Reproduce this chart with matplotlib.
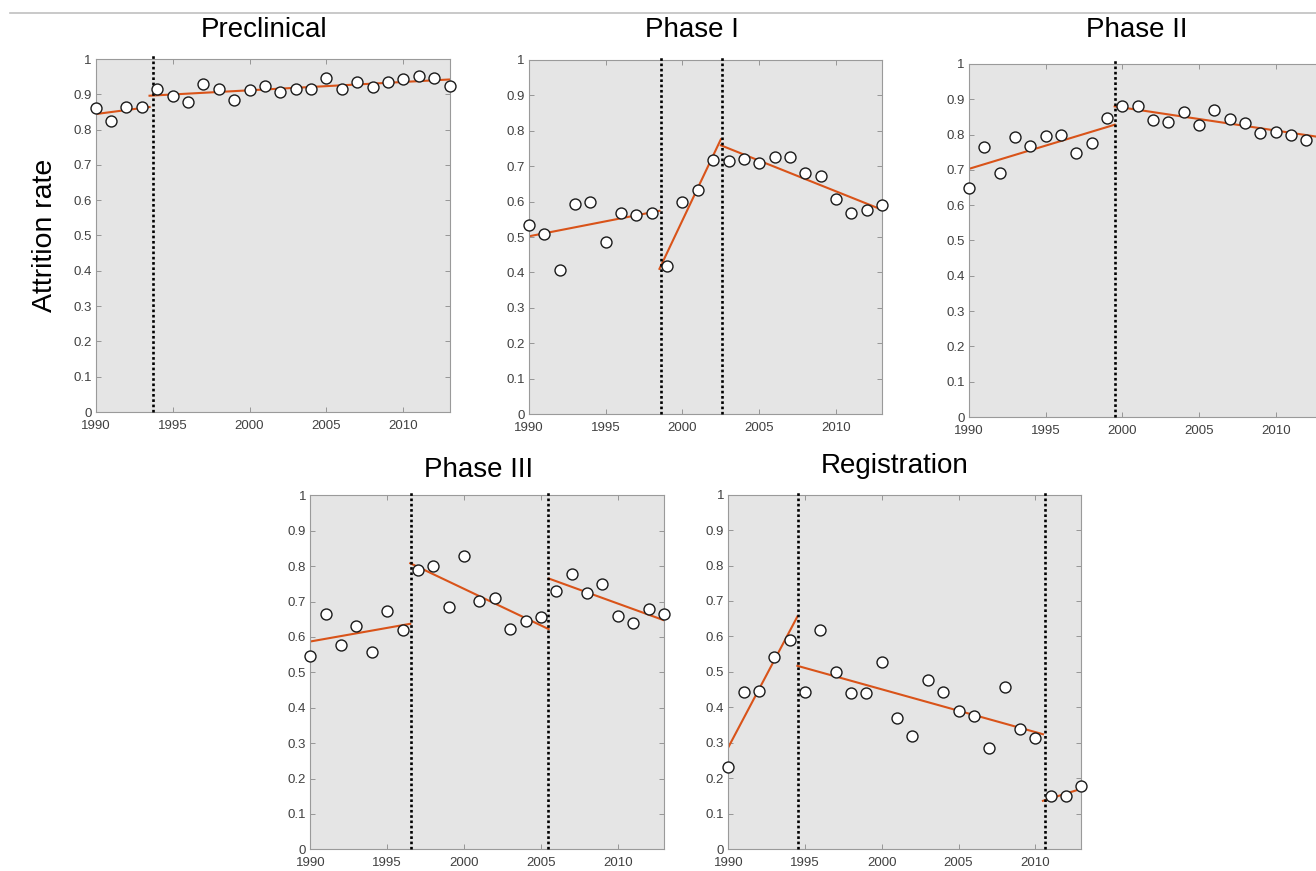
import matplotlib
matplotlib.use("Agg")
import matplotlib.pyplot as plt
from matplotlib.lines import Line2D

plt.rcParams["font.family"] = ["Liberation Sans", "DejaVu Sans"]

# attrition rate per year
years = list(range(1990, 2014))

preclinical = [0.860, 0.823, 0.863, 0.865, 0.915, 0.895, 0.878, 0.928, 0.916, 0.885,
               0.911, 0.923, 0.907, 0.914, 0.915, 0.946, 0.915, 0.934, 0.922, 0.935,
               0.942, 0.953, 0.946, 0.924]
phase1 = [0.533, 0.509, 0.408, 0.593, 0.598, 0.485, 0.569, 0.562, 0.567, 0.417,
          0.598, 0.634, 0.717, 0.714, 0.720, 0.709, 0.726, 0.725, 0.680, 0.671,
          0.608, 0.569, 0.575, 0.590]
# last year of phase II falls outside the cropped image
phase2 = [0.649, 0.764, 0.691, 0.794, 0.767, 0.795, 0.799, 0.749, 0.775, 0.846,
          0.880, 0.881, 0.842, 0.837, 0.865, 0.826, 0.870, 0.845, 0.833, 0.805,
          0.807, 0.798, 0.786]
phase3 = [0.546, 0.666, 0.576, 0.632, 0.556, 0.672, 0.620, 0.790, 0.799, 0.685,
          0.828, 0.701, 0.710, 0.621, 0.644, 0.656, 0.730, 0.777, 0.723, 0.749,
          0.659, 0.638, 0.680, 0.664]
registration = [0.231, 0.442, 0.446, 0.542, 0.590, 0.443, 0.617, 0.500, 0.441, 0.441,
                0.527, 0.370, 0.320, 0.476, 0.442, 0.390, 0.376, 0.285, 0.458, 0.338,
                0.312, 0.151, 0.150, 0.179]

# detected breakpoints
breaks_pre = [1993.7]
breaks_p1 = [1998.6, 2002.6]
breaks_p2 = [1999.5]
breaks_p3 = [1996.55, 2005.45]
breaks_reg = [1994.55, 2010.65]

# fitted segments: (x start, x end, y start, y end)
fit_pre = [(1990, 1993.5, 0.844, 0.864), (1993.5, 2013, 0.896, 0.942)]
fit_p1 = [(1990, 1998.5, 0.502, 0.574), (1998.5, 2002.5, 0.410, 0.776),
          (2002.5, 2013, 0.759, 0.577)]
fit_p2 = [(1990, 1999.5, 0.703, 0.828), (1999.5, 2013, 0.880, 0.792)]
fit_p3 = [(1990, 1996.5, 0.587, 0.637), (1996.5, 2005.5, 0.808, 0.622),
          (2005.5, 2013, 0.765, 0.647)]
fit_reg = [(1990, 1994.5, 0.287, 0.656), (1994.5, 2010.5, 0.517, 0.324),
           (2010.5, 2013, 0.136, 0.170)]

titles = ["Preclinical", "Phase I", "Phase II", "Phase III", "Registration"]
xticks = [1990, 1995, 2000, 2005, 2010]
yticks = [0, 0.1, 0.2, 0.3, 0.4, 0.5, 0.6, 0.7, 0.8, 0.9, 1]
ytick_labels = ["0", "0.1", "0.2", "0.3", "0.4", "0.5", "0.6", "0.7", "0.8", "0.9", "1"]

W, H = 1316, 871
fig = plt.figure(figsize=(W / 100, H / 100), dpi=100)

# axes boxes in pixels: left, top, right, bottom
boxes = [(95.7, 59, 449.5, 412), (529, 60, 882, 414), (969, 64, 1321.7, 417),
         (310.3, 495.3, 664, 849.3), (728.3, 494.7, 1081.3, 849)]
# title centre x and baseline y in pixels
title_pos = [(264.5, 36.7), (692, 36.7), (1136.5, 36.7), (479, 477.3), (895, 473.3)]

panels = [
    (preclinical, breaks_pre, fit_pre),
    (phase1, breaks_p1, fit_p1),
    (phase2, breaks_p2, fit_p2),
    (phase3, breaks_p3, fit_p3),
    (registration, breaks_reg, fit_reg),
]

orange = "#D95319"
for i, (vals, brks, fits) in enumerate(panels):
    l, t, r, b = boxes[i]
    ax = fig.add_axes([l / W, 1 - b / H, (r - l) / W, (b - t) / H])
    ax.set_facecolor("#e5e5e5")
    for s in ax.spines.values():
        s.set_color("#9a9a9a")
        s.set_linewidth(0.8)

    for x0, x1, y0, y1 in fits:
        ax.plot([x0, x1], [y0, y1], color=orange, lw=1.5, zorder=2)
    for bx in brks:
        ax.plot([bx, bx], [0, 1.01], color="black", lw=1.9,
                linestyle=(0, (1, 1)), zorder=3, clip_on=False)
    ax.plot(years[:len(vals)], vals, "o", ms=7.9, mfc="white", mec="#1a1a1a",
            mew=1.0, zorder=4, clip_on=False)

    ax.set_xlim(1990, 2013)
    ax.set_ylim(0, 1)
    ax.set_xticks(xticks)
    ax.set_yticks(yticks)
    ax.set_yticklabels(ytick_labels)
    ax.tick_params(direction="in", length=3.5, width=0.6, color="#8a8a8a",
                   labelsize=9.5, labelcolor="#404040", top=True, right=True)
    ax.tick_params(axis="x", pad=5.5)
    ax.tick_params(axis="y", pad=3)

    tx, ty = title_pos[i]
    fig.text(tx / W, 1 - ty / H, titles[i], ha="center", va="baseline",
             fontsize=20, color="black")

fig.text(45 / W, 1 - 235.5 / H, "Attrition rate", rotation=90,
         ha="center", va="center", fontsize=20.5, color="black")

# thin separator line along the top
fig.add_artist(Line2D([10 / W, 1], [1 - 13 / H, 1 - 13 / H], color="#c0c0c0",
                      lw=1.2, transform=fig.transFigure))

fig.savefig("out.png", dpi=100)
